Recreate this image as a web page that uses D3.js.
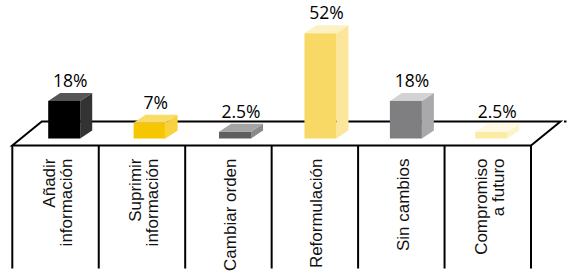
<!DOCTYPE html>
<html>
<head>
<meta charset="utf-8">
<script src="https://cdn.jsdelivr.net/npm/d3@7"></script>
<style>
  html, body { margin: 0; padding: 0; background: #fff; }
  svg { display: block; }
</style>
</head>
<body>
<svg id="chart"></svg>
<script>
// Data
const categories = ['Añadir información', 'Suprimir información', 'Cambiar orden', 'Reformulación', 'Sin cambios', 'Compromiso a futuro'];
const categoryLines = [['Añadir', 'información'], ['Suprimir', 'información'], ['Cambiar orden'], ['Reformulación'], ['Sin cambios'], ['Compromiso', 'a futuro']];
const values = [18, 7, 2.5, 52, 18, 2.5];
const valueLabels = ['18%', '7%', '2.5%', '52%', '18%', '2.5%'];

// Face colours per bar: front, side, top
const palette = [
  ['#000000', '#333333', '#565656'],
  ['#f6c600', '#f8d23e', '#f9db66'],
  ['#5e5e5e', '#8a8a8a', '#a4a4a4'],
  ['#f8d966', '#fbe69c', '#fdf0c2'],
  ['#7f7f81', '#a9a9ab', '#d3d3d3'],
  ['#fbeba4', '#fdf3c8', '#fff9e4']
];

const width = 567;
const height = 277;
const floorFront = 145.5;   // front edge of the floor
const floorBack = 121.5;    // back edge of the floor
const skew = 29.5;          // horizontal shift of the back edge
const barBase = 138.5;      // where the bars stand
const barW = 32;
const depthX = 12;
const depthY = 8;

const svg = d3.select('#chart')
  .attr('width', width)
  .attr('height', height);

// Scales
const x = d3.scaleBand().domain(categories).range([12.3, 531]);
const barX = d3.scaleBand().domain(categories).range([21.5, 534]);
const y = d3.scaleLinear().domain([0, 52]).range([136.8, 33.3]);

// Floor (parallelogram) and column dividers
const floor = svg.append('g')
  .attr('fill', 'none')
  .attr('stroke', '#000')
  .attr('stroke-width', 2);

const left = x.range()[0];
const right = x.range()[1];

floor.append('path')
  .attr('d', `M${left},${floorFront} L${left + skew},${floorBack} L${right + skew},${floorBack} L${right},${floorFront} Z`)
  .attr('stroke-linejoin', 'miter');

floor.append('line')
  .attr('x1', right + skew + 3.5).attr('x2', right + skew + 6)
  .attr('y1', floorBack).attr('y2', floorBack);

const dividers = categories.map(c => x(c)).concat([right]);
floor.selectAll('line.div')
  .data(dividers)
  .join('line')
  .attr('class', 'div')
  .attr('x1', d => d).attr('x2', d => d)
  .attr('y1', floorFront).attr('y2', 268.5);

// 3D bars
const bars = svg.append('g')
  .selectAll('g')
  .data(values)
  .join('g');

bars.each(function (v, i) {
  const g = d3.select(this);
  const cx = barX(categories[i]) + barX.bandwidth() / 2;
  const x0 = cx - barW / 2;
  const x1 = cx + barW / 2;
  const top = y(v);
  const col = palette[i];

  // side face
  g.append('path')
    .attr('d', `M${x1},${barBase} L${x1},${top} L${x1 + depthX},${top - depthY} L${x1 + depthX},${barBase - depthY} Z`)
    .attr('fill', col[1]);

  // top face
  g.append('path')
    .attr('d', `M${x0},${top} L${x0 + depthX},${top - depthY} L${x1 + depthX},${top - depthY} L${x1},${top} Z`)
    .attr('fill', col[2]);

  // front face
  g.append('rect')
    .attr('x', x0)
    .attr('y', top)
    .attr('width', barW)
    .attr('height', barBase - top)
    .attr('fill', col[0]);

  // value label
  g.append('text')
    .attr('x', cx + depthX / 2)
    .attr('y', top - 14)
    .attr('text-anchor', 'middle')
    .style('font-family', '"Open Sans", sans-serif')
    .style('font-size', '17.5px')
    .style('fill', '#000')
    .text(valueLabels[i]);
});

// Category labels, rotated
const lineGap = 17;
svg.append('g')
  .selectAll('text')
  .data(categories)
  .join('text')
  .attr('transform', d => `translate(${x(d) + x.bandwidth() / 2},158.5) rotate(-90)`)
  .attr('text-anchor', 'end')
  .style('font-family', '"Liberation Sans", Arial, sans-serif')
  .style('font-size', '17px')
  .style('fill', '#111')
  .each(function (d, i) {
    const lines = categoryLines[i];
    const n = lines.length;
    d3.select(this).selectAll('tspan')
      .data(lines)
      .join('tspan')
      .attr('x', 0)
      .attr('y', (l, j) => 7.5 + (j - (n - 1) / 2) * lineGap)
      .text(l => l);
  });
</script>
</body>
</html>
